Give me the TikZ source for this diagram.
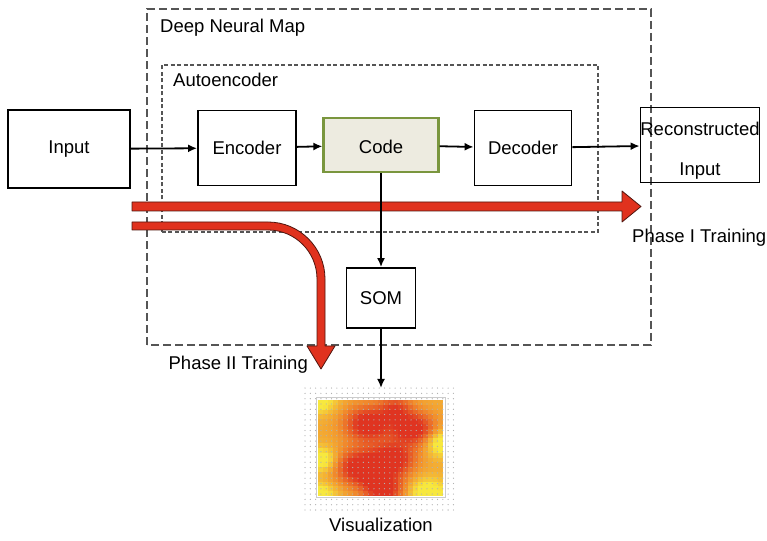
\documentclass[tikz,border=0pt]{standalone}
\usepackage{fontspec}
\setmainfont{Liberation Sans}
\usetikzlibrary{arrows.meta,positioning}
\definecolor{codeedge}{RGB}{122,150,62}
\definecolor{codefill}{RGB}{237,235,224}
\definecolor{phase}{RGB}{224,50,30}
\definecolor{phaseedge}{RGB}{80,22,15}
\definecolor{frame}{RGB}{85,85,85}
\definecolor{heatY}{RGB}{247,232,62}
\definecolor{heatO}{RGB}{241,142,46}
\definecolor{heatR}{RGB}{223,52,33}

\begin{document}
\begin{tikzpicture}[
    x=1pt,y=1pt,
    font=\fontsize{18.5}{22}\selectfont,
    block/.style={draw,line width=1.8pt,inner sep=0pt},
    region/.style={draw=frame,line width=1.3pt,dash pattern=on 8pt off 4pt},
    tag/.style={anchor=west,inner sep=0pt},
    flow/.style={fill=phase,draw=phaseedge,line width=0.8pt,line join=round},
    link/.style={->,line width=1.8pt},
    >={Latex[length=9pt,width=8pt]}
]
\useasboundingbox (0,0) rectangle (767,540);

% dashed groupings
\draw[region] (147,195) rectangle (651,531);
\draw[region,dash pattern=on 4pt off 2.5pt] (162,308) rectangle (598,475);
\node[tag] (dnmtag) at (160,512) {Deep Neural Map};
\node[tag] (aetag) at (173,460) {Autoencoder};

% training phases
\draw[flow] (132,329) -- (622,329) -- (622,318) -- (641,333.5)
    -- (622,349) -- (622,338) -- (132,338) -- cycle;
\draw[flow] (132,318) -- (268,318) arc[start angle=90,end angle=0,radius=57]
    -- (325,194) -- (335,194) -- (321,171) -- (307,194) -- (317,194)
    -- (317,261) arc[start angle=0,end angle=90,radius=49] -- (132,310) -- cycle;
\node[tag] (phase1) at (632,302) {Phase I Training};
\node[anchor=east,inner sep=0pt] (phase2) at (308,175) {Phase II Training};

% blocks
\node[block,minimum width=122pt,minimum height=78pt] (input) at (69,391) {Input};
\node[block,minimum width=98pt,minimum height=75pt] (encoder) at (247,392) {Encoder};
\node[block,line width=2.2pt,draw=codeedge,fill=codefill,minimum width=115pt,minimum height=54pt,text height=18pt] (code) at (381,395) {Code};
\node[block,minimum width=97pt,minimum height=75pt] (decoder) at (523,392) {Decoder};
\node[block,minimum width=119pt,minimum height=75pt] (recon) at (700,395) {};
\node[align=center,font=\fontsize{18.5}{40}\selectfont] (recontext) at ([yshift=-6pt]recon.center) {Reconstructed\\Input};
\node[block,minimum width=69pt,minimum height=60pt] (som) at (381,242) {SOM};

% map of the trained SOM: red ridges over an orange/yellow floor
\foreach \i in {0,...,24}
  \foreach \j in {0,...,19} {
    \pgfmathsetmacro\u{(\i+0.5)/25}
    \pgfmathsetmacro\w{(\j+0.5)/20}
    \pgfmathsetmacro\v{0.34
      +0.82*(exp(-30*((\u-0.40)^2+(\w-0.25)^2))
            +exp(-30*((\u-0.33)^2+(\w-0.70)^2))
            +exp(-35*((\u-0.76)^2+(\w-0.30)^2))
            +exp(-35*((\u-0.60)^2+(\w-0.62)^2))
            +exp(-40*((\u-0.52)^2+(\w-0.93)^2))
            +0.6*exp(-60*((\u-0.62)^2+(\w-0.08)^2)))
      -0.55*(exp(-60*((\u-0.00)^2+(\w-0.00)^2))
            +exp(-70*((\u-0.02)^2+(\w-0.62)^2))
            +exp(-60*((\u-0.00)^2+(\w-1.00)^2))
            +exp(-60*((\u-1.00)^2+(\w-0.45)^2))
            +exp(-50*((\u-0.88)^2+(\w-0.97)^2)))}
    \pgfmathtruncatemacro\pa{min(100,max(0,200*\v))}
    \pgfmathtruncatemacro\pb{min(100,max(0,200*\v-100))}
    \colorlet{cellbase}{heatO!\pa!heatY}
    \fill[heatR!\pb!cellbase] (318+\i*5,140-\j*4.8) rectangle ++(5.05,-4.85);
  }
\foreach \i in {0,...,28}
  \foreach \j in {0,...,23}
    \fill[black!30] (305+\i*5.3,30+\j*5.3) circle (0.65);
\draw[black!20,line width=1pt] (316,42) rectangle (445,142);
\coordinate (vis) at (381,152);
\node (vistag) at (381,15) {Visualization};

% connectors
\draw[link] (input) -- (encoder);
\draw[link] (encoder) -- (code);
\draw[link] (code) -- (decoder);
\draw[link] (decoder) -- (recon);
\draw[link] (code) -- (som);
\draw[link] (som) -- (vis);
\end{tikzpicture}
\end{document}
